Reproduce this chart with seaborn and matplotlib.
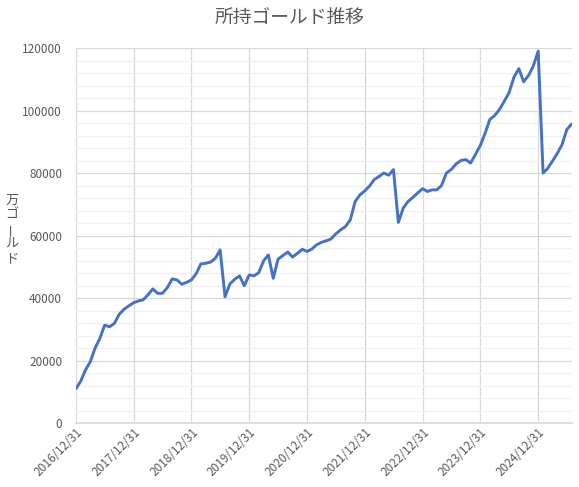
import numpy as np
import pandas as pd
import matplotlib
matplotlib.use("Agg")
import matplotlib.pyplot as plt
import matplotlib.dates as mdates
from matplotlib.ticker import MultipleLocator
import seaborn as sns

# monthly gold holdings (month-end), 2016/12 .. 2025/07
months = pd.date_range("2016-12-31", periods=104, freq="ME")
gold = [
    11000, 13500, 16900, 19600, 23900, 27100, 31300, 30800, 31900, 34800, 36400, 37500,
    38500, 39100, 39400, 41000, 42900, 41500, 41500, 43300, 46100, 45800, 44400, 45000,
    45800, 47900, 50900, 51100, 51500, 52700, 55400, 40400, 44500, 46000, 47100, 43900,
    47400, 47100, 48100, 51900, 53800, 46300, 52400, 53600, 54700, 53100, 54300, 55600,
    54900, 55700, 57000, 57800, 58300, 58900, 60500, 61800, 62900, 65000, 70900, 73000,
    74300, 75900, 77900, 78900, 80000, 79300, 81100, 64200, 68800, 70900, 72200, 73600,
    75000, 74100, 74600, 74600, 76000, 80000, 81100, 82900, 84000, 84300, 83200, 85900,
    88800, 92800, 97100, 98400, 100300, 103000, 105700, 110700, 113400, 109200, 111200, 114200,
    119000, 80000, 81400, 83800, 86200, 89100, 93900, 95700,
]
df = pd.DataFrame({"date": months, "gold": gold})

title = "所持ゴールド推移"
ylabel_chars = ["万", "ゴ", "ー", "ル", "ド"]

sns.set_theme(style="white")
plt.rcParams["font.family"] = ["Noto Sans CJK JP", "DejaVu Sans"]

grey = "#595959"
fig = plt.figure(figsize=(5.79, 4.87), dpi=100)
ax = fig.add_axes([0.1313, 0.1314, 0.8561, 0.77])

sns.lineplot(data=df, x="date", y="gold", ax=ax, color="#4472C4", linewidth=2.1)

ax.set_ylim(0, 120000)
ax.set_xlim(months[0], months[-1])
ax.yaxis.set_major_locator(MultipleLocator(20000))
ax.yaxis.set_minor_locator(MultipleLocator(4000))
ax.xaxis.set_major_locator(mdates.MonthLocator(bymonth=12, bymonthday=31))
ax.xaxis.set_major_formatter(mdates.DateFormatter("%Y/%m/%d"))

ax.grid(True, which="major", axis="both", color="#D9D9D9", linewidth=0.9)
ax.grid(True, which="minor", axis="y", color="#F0F0F0", linewidth=0.9)
ax.set_axisbelow(True)
for s in ["top", "right", "left"]:
    ax.spines[s].set_visible(False)
ax.spines["bottom"].set_color("#D9D9D9")

ax.tick_params(axis="y", which="both", length=0, labelsize=8.5, labelcolor=grey, pad=10)
ax.tick_params(axis="x", length=0, labelsize=8.5, labelcolor=grey, pad=2)
for lab in ax.get_xticklabels():
    lab.set_rotation(45)
    lab.set_ha("right")
    lab.set_rotation_mode("anchor")
ax.set_xlabel("")
ax.set_ylabel("")

fig.text(0.5, 0.965, title, ha="center", va="center", fontsize=13.5, color=grey)

# stacked vertical axis title
ys = [200, 214, 229, 244, 259]
for ch, yp in zip(ylabel_chars, ys):
    fig.text(12 / 579, 1 - yp / 487, ch, ha="center", va="center", fontsize=9.5,
             color=grey, rotation=90 if ch == "ー" else 0)

fig.savefig("out.png", dpi=100)
